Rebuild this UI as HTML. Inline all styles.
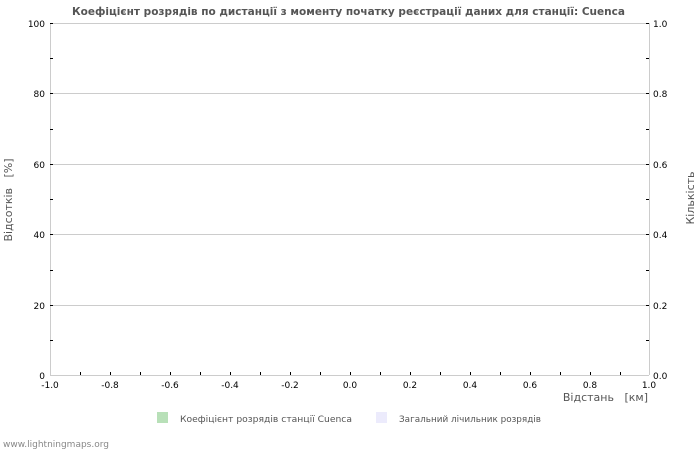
<!DOCTYPE html>
<html><head><meta charset="utf-8"><style>
body{margin:0;background:#fff;}
svg text{font-family:"DejaVu Sans","Liberation Sans",sans-serif;}
</style></head><body>
<svg width="700" height="450" xmlns="http://www.w3.org/2000/svg">
<rect width="700" height="450" fill="#fff"/>
<text x="72" y="15" font-size="11" font-weight="bold" fill="#555" textLength="553" lengthAdjust="spacingAndGlyphs">Коефіцієнт розрядів по дистанції з моменту початку реєстрації даних для станції: Cuenca</text>
<g stroke="#ccc" stroke-width="1">
<line x1="50" y1="93.5" x2="649" y2="93.5"/>
<line x1="50" y1="164.5" x2="649" y2="164.5"/>
<line x1="50" y1="234.5" x2="649" y2="234.5"/>
<line x1="50" y1="305.5" x2="649" y2="305.5"/>
<line x1="50" y1="23.5" x2="649" y2="23.5"/>
<line x1="50.5" y1="23" x2="50.5" y2="375"/>
<line x1="649.5" y1="23" x2="649.5" y2="375"/>
<line x1="50" y1="375.5" x2="649" y2="375.5"/>
</g>
<g stroke="#000" stroke-width="1">
<path d="M50,23.5h3M50,58.5h3M50,93.5h3M50,129.5h3M50,164.5h3M50,199.5h3M50,234.5h3M50,270.5h3M50,305.5h3M50,340.5h3"/>
<path d="M646,23.5h3M646,58.5h3M646,93.5h3M646,129.5h3M646,164.5h3M646,199.5h3M646,234.5h3M646,270.5h3M646,305.5h3M646,340.5h3"/>
<path d="M80.5,372v3M110.5,372v3M140.5,372v3M170.5,372v3M200.5,372v3M230.5,372v3M260.5,372v3M290.5,372v3M320.5,372v3M350.5,372v3M380.5,372v3M410.5,372v3M440.5,372v3M470.5,372v3M500.5,372v3M530.5,372v3M560.5,372v3M590.5,372v3M620.5,372v3"/>
</g>
<g font-size="9" fill="#000" text-anchor="end">
<text x="45" y="27">100</text><text x="45" y="97">80</text><text x="45" y="168">60</text><text x="45" y="238">40</text><text x="45" y="309">20</text><text x="45" y="379">0</text>
</g>
<g font-size="9" fill="#000">
<text x="653" y="27">1.0</text><text x="653" y="97">0.8</text><text x="653" y="168">0.6</text><text x="653" y="238">0.4</text><text x="653" y="309">0.2</text><text x="653" y="379">0.0</text>
</g>
<g font-size="9" fill="#000" text-anchor="middle">
<text x="50" y="388">-1.0</text><text x="110" y="388">-0.8</text><text x="170" y="388">-0.6</text><text x="230" y="388">-0.4</text><text x="290" y="388">-0.2</text><text x="350" y="388">0.0</text><text x="410" y="388">0.2</text><text x="470" y="388">0.4</text><text x="530" y="388">0.6</text><text x="590" y="388">0.8</text><text x="649" y="388">1.0</text>
</g>
<text x="648" y="401" font-size="11" fill="#555" text-anchor="end" xml:space="preserve">Відстань   [км]</text>
<text transform="translate(12,200) rotate(-90)" font-size="11" fill="#555" text-anchor="middle" xml:space="preserve">Відсотків   [%]</text>
<text transform="translate(694,198) rotate(-90)" font-size="11" fill="#555" text-anchor="middle">Кількість</text>
<rect x="157" y="412" width="11" height="11" fill="#b8e0b8"/>
<text x="180" y="422" font-size="9" fill="#555" textLength="172" lengthAdjust="spacingAndGlyphs">Коефіцієнт розрядів станції Cuenca</text>
<rect x="376" y="412" width="11" height="11" fill="#ecebfc"/>
<text x="399" y="422" font-size="9" fill="#555" textLength="142" lengthAdjust="spacingAndGlyphs">Загальний лічильник розрядів</text>
<text x="3" y="447" font-size="9" fill="#888">www.lightningmaps.org</text>
</svg>
</body></html>
